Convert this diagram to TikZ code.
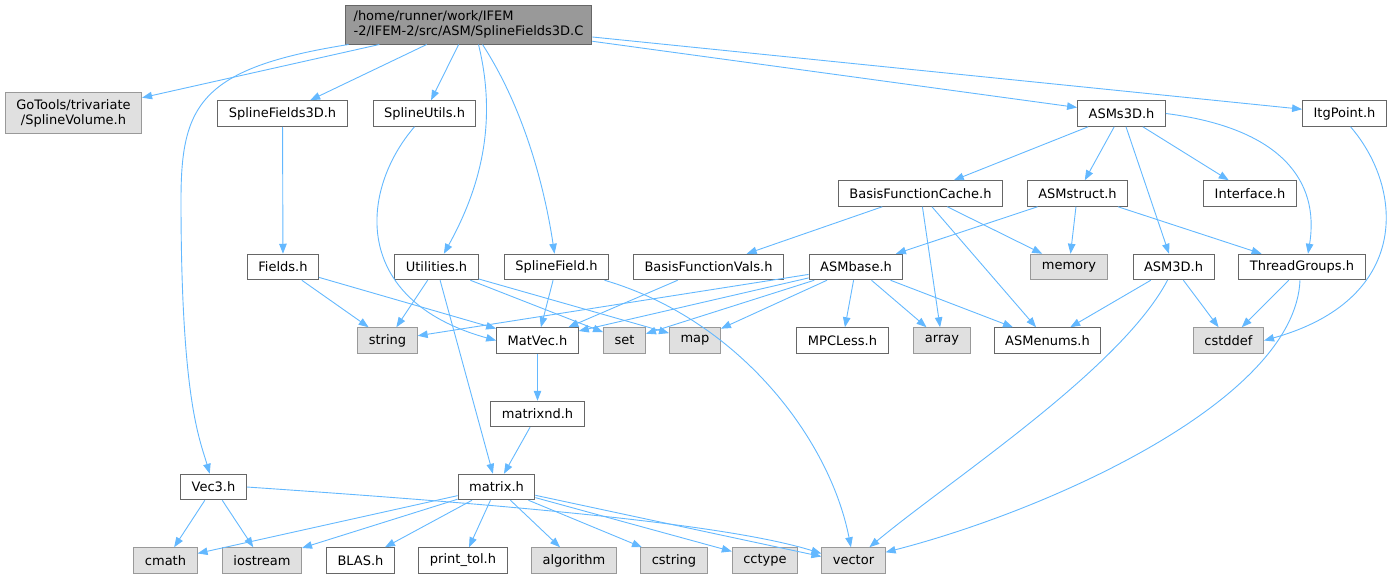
\documentclass[tikz,border=0pt]{standalone}
\usepackage{fontspec}
\setmainfont{DejaVu Sans}
\usepackage{xcolor}
\usepackage{tikz}
\usetikzlibrary{arrows.meta}

\definecolor{inclblue}{HTML}{63B8FF}
\definecolor{sysgray}{HTML}{E0E0E0}

\begin{document}
\begin{tikzpicture}[
        x=1pt, y=-1pt,
        font=\fontsize{13}{15}\selectfont,
        box/.style={rectangle, draw=black!60, fill=white, line width=1pt, inner xsep=11pt, inner ysep=2pt, minimum height=25.5pt, align=center},
        sys/.style={box, draw=black!40, fill=sysgray},
        incl/.style={-{Triangle[length=10pt,width=7.5pt]}, draw=inclblue, line width=0.9pt}
    ]
        \useasboundingbox (0,0) rectangle (1393,579);

        \node[box, fill=black!40, align=left, inner xsep=8.5pt, minimum height=39pt] (root) at (468.5,24.5) {/home/runner/work/IFEM\\-2/IFEM-2/src/ASM/SplineFields3D.C};

        \node[sys, minimum height=41pt] (gotools) at (73.5,113) {GoTools/trivariate\\/SplineVolume.h};
        \node[box] (sf3dh) at (282.5,113.5) {SplineFields3D.h};
        \node[box] (sutils) at (424.5,113.5) {SplineUtils.h};
        \node[box] (asms3d) at (1121.5,113.5) {ASMs3D.h};
        \node[box] (itgpoint) at (1344.5,113.5) {ItgPoint.h};

        \node[box] (bfcache) at (920.5,193.5) {BasisFunctionCache.h};
        \node[box] (asmstruct) at (1077.5,193.5) {ASMstruct.h};
        \node[box] (iface) at (1250,193.5) {Interface.h};

        \node[box] (fields) at (283,267) {Fields.h};
        \node[box] (utilities) at (436.5,267) {Utilities.h};
        \node[box] (sfield) at (556.5,267) {SplineField.h};
        \node[box] (bfvals) at (708.5,267) {BasisFunctionVals.h};
        \node[box] (asmbase) at (856,267) {ASMbase.h};
        \node[sys] (memory) at (1069,267) {memory};
        \node[box] (asm3d) at (1173.5,267) {ASM3D.h};
        \node[box] (tgroups) at (1302,267) {ThreadGroups.h};

        \node[sys] (string) at (387.5,340.5) {string};
        \node[box] (matvec) at (537.5,340.5) {MatVec.h};
        \node[sys] (set) at (624.5,340.5) {set};
        \node[sys] (map) at (695,340.5) {map};
        \node[box] (mpcless) at (842.5,340.5) {MPCLess.h};
        \node[sys] (array) at (942,340.5) {array};
        \node[box] (asmenums) at (1047.5,340.5) {ASMenums.h};
        \node[sys] (cstddef) at (1228.5,340.5) {cstddef};

        \node[box] (matrixnd) at (537.5,414) {matrixnd.h};
        \node[box] (vec3) at (213.5,487) {Vec3.h};
        \node[box] (matrix) at (496.5,487) {matrix.h};

        \node[sys] (cmath) at (165.5,560.5) {cmath};
        \node[sys] (iostream) at (262,560.5) {iostream};
        \node[box] (blas) at (360.5,560.5) {BLAS.h};
        \node[box] (printtol) at (463,560.5) {print\_tol.h};
        \node[sys] (algorithm) at (574,560.5) {algorithm};
        \node[sys] (cstring) at (674,560.5) {cstring};
        \node[sys] (cctype) at (765,560.5) {cctype};
        \node[sys] (vector) at (853.5,560.5) {vector};

        \draw[incl] (root) -- (gotools);
        \draw[incl] (root) -- (sf3dh);
        \draw[incl] (root) -- (sutils);
        \draw[incl] ([xshift=10pt]root.south) .. controls (497,120) and (482,185) .. (utilities);
        \draw[incl] ([xshift=14pt]root.south) .. controls (525,110) and (545,190) .. (sfield);
        \draw[incl] ([xshift=4pt]root.south west) .. controls (200,68) and (181,105) .. (181,200) .. controls (181,400) and (200,440) .. (vec3);
        \draw[incl] (root) -- (asms3d);
        \draw[incl] (root) -- (itgpoint);

        \draw[incl] (sf3dh) -- (fields);
        \draw[incl] ([xshift=-10pt]sutils.south) .. controls (360,190) and (350,300) .. (matvec.west);

        \draw[incl] (asms3d) -- (bfcache);
        \draw[incl] (asms3d) -- (asmstruct);
        \draw[incl] (asms3d) -- (asm3d);
        \draw[incl] (asms3d) -- (iface);
        \draw[incl] (asms3d.east) .. controls (1280,128) and (1320,180) .. ([xshift=6pt]tgroups.north);
        \draw[incl] ([xshift=6pt]itgpoint.south) .. controls (1405,190) and (1410,300) .. (cstddef.east);

        \draw[incl] (bfcache) -- (bfvals);
        \draw[incl] (bfcache) -- (memory);
        \draw[incl] (bfcache) -- (array);
        \draw[incl] (bfcache) -- (asmenums);
        \draw[incl] (asmstruct) -- (asmbase);
        \draw[incl] (asmstruct) -- (memory);
        \draw[incl] (asmstruct) -- (tgroups);

        \draw[incl] (fields) -- (string);
        \draw[incl] (fields) -- (matvec);
        \draw[incl] (utilities) -- (string);
        \draw[incl] (utilities) -- (set);
        \draw[incl] (utilities) -- (map);
        \draw[incl] (utilities) -- (matrix);
        \draw[incl] (sfield) -- (matvec);
        \draw[incl] ([xshift=48pt]sfield.south) .. controls (740,320) and (830,440) .. (vector);
        \draw[incl] (bfvals) -- (matvec);
        \draw[incl] (asmbase) -- (string);
        \draw[incl] (asmbase) -- (matvec);
        \draw[incl] (asmbase) -- (set);
        \draw[incl] (asmbase) -- (map);
        \draw[incl] (asmbase) -- (mpcless);
        \draw[incl] (asmbase) -- (array);
        \draw[incl] (asmbase) -- (asmenums);
        \draw[incl] (asm3d) -- (asmenums);
        \draw[incl] (asm3d) -- (cstddef);
        \draw[incl] ([xshift=-6pt]asm3d.south) .. controls (1120,370) and (950,480) .. (vector);
        \draw[incl] (tgroups) -- (cstddef);
        \draw[incl] ([xshift=-2pt]tgroups.south) .. controls (1295,400) and (1050,510) .. (vector);

        \draw[incl] (matvec) -- (matrixnd);
        \draw[incl] (matrixnd) -- (matrix);

        \draw[incl] (vec3) -- (cmath);
        \draw[incl] (vec3) -- (iostream);
        \draw[incl] (vec3.east) .. controls (480,503) and (720,522) .. ([yshift=7pt]vector.west);
        \draw[incl] (matrix) -- (cmath);
        \draw[incl] (matrix) -- (iostream);
        \draw[incl] (matrix) -- (blas);
        \draw[incl] (matrix) -- (printtol);
        \draw[incl] (matrix) -- (algorithm);
        \draw[incl] (matrix) -- (cstring);
        \draw[incl] (matrix) -- (cctype);
        \draw[incl] (matrix) -- ([yshift=4pt]vector.west);
    \end{tikzpicture}
\end{document}
